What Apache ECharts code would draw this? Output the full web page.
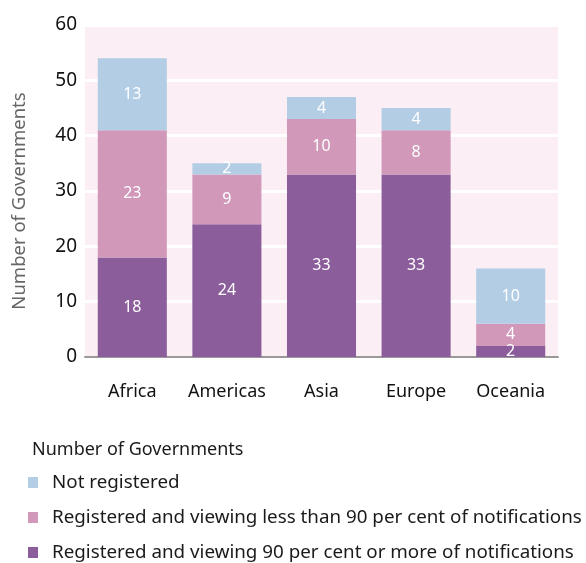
<!DOCTYPE html>
<html><head><meta charset="utf-8">
<script src="https://cdn.jsdelivr.net/npm/echarts@6/dist/echarts.min.js"></script>
<style>html,body{margin:0;padding:0;background:#fff}#c{width:586px;height:563px}</style>
</head><body><div id="c"></div>
<script>
var categories = ['Africa', 'Americas', 'Asia', 'Europe', 'Oceania'];
var seriesNames = ['Registered and viewing 90 per cent or more of notifications', 'Registered and viewing less than 90 per cent of notifications', 'Not registered'];
var viewing90 = [18, 24, 33, 33, 2];
var viewingLess = [23, 9, 10, 8, 4];
var notRegistered = [13, 2, 4, 4, 10];
var yTicks = [0, 10, 20, 30, 40, 50, 60];
var colors = ['#8B5E9B', '#D198B9', '#B3CDE5'];
var FONT = 'Noto Sans';
var chart = echarts.init(document.getElementById('c'));
var dataSets = [viewing90, viewingLess, notRegistered];
chart.setOption({
  animation: false,
  textStyle: {fontFamily: FONT},
  title: {text: 'Number of Governments', left: 27, top: 436, textStyle: {fontFamily: FONT, fontSize: 18, fontWeight: 'normal', color: '#1a1a1a'}},
  legend: {
    orient: 'vertical', left: 28, top: 473, height: 120, padding: 0,
    itemWidth: 10, itemHeight: 11, itemGap: 16,
    icon: 'rect',
    data: [seriesNames[2], seriesNames[1], seriesNames[0]],
    textStyle: {fontFamily: FONT, fontSize: 18.8, color: '#1a1a1a', padding: [0, 0, 0, 9]}
  },
  grid: {left: 85, right: 28, top: 25, bottom: 206, show: true, backgroundColor: '#FCEEF5', borderWidth: 0},
  xAxis: {
    type: 'category', data: categories,
    axisLine: {lineStyle: {color: '#999', width: 2}},
    axisTick: {show: false},
    axisLabel: {fontFamily: FONT, fontSize: 18, color: '#111', margin: 26, interval: 0}
  },
  yAxis: {
    type: 'value', min: yTicks[0], max: yTicks[yTicks.length - 1], interval: 10,
    name: 'Number of Governments', nameLocation: 'middle', nameGap: 56,
    nameTextStyle: {fontFamily: FONT, fontSize: 18.5, color: '#666', padding: [0, 20, 0, 0]},
    axisLine: {show: false}, axisTick: {show: false},
    axisLabel: {fontFamily: FONT, fontSize: 19, color: '#111', margin: 8},
    splitLine: {lineStyle: {color: '#fff', width: 3}}
  },
  series: dataSets.map(function (d, i) {
    return {
      name: seriesNames[i], type: 'bar', stack: 'all', data: d, barWidth: '73%',
      itemStyle: {color: colors[i]},
      label: {show: true, position: 'inside', color: '#fff', fontFamily: FONT, fontSize: 16}
    };
  })
});
</script></body></html>
